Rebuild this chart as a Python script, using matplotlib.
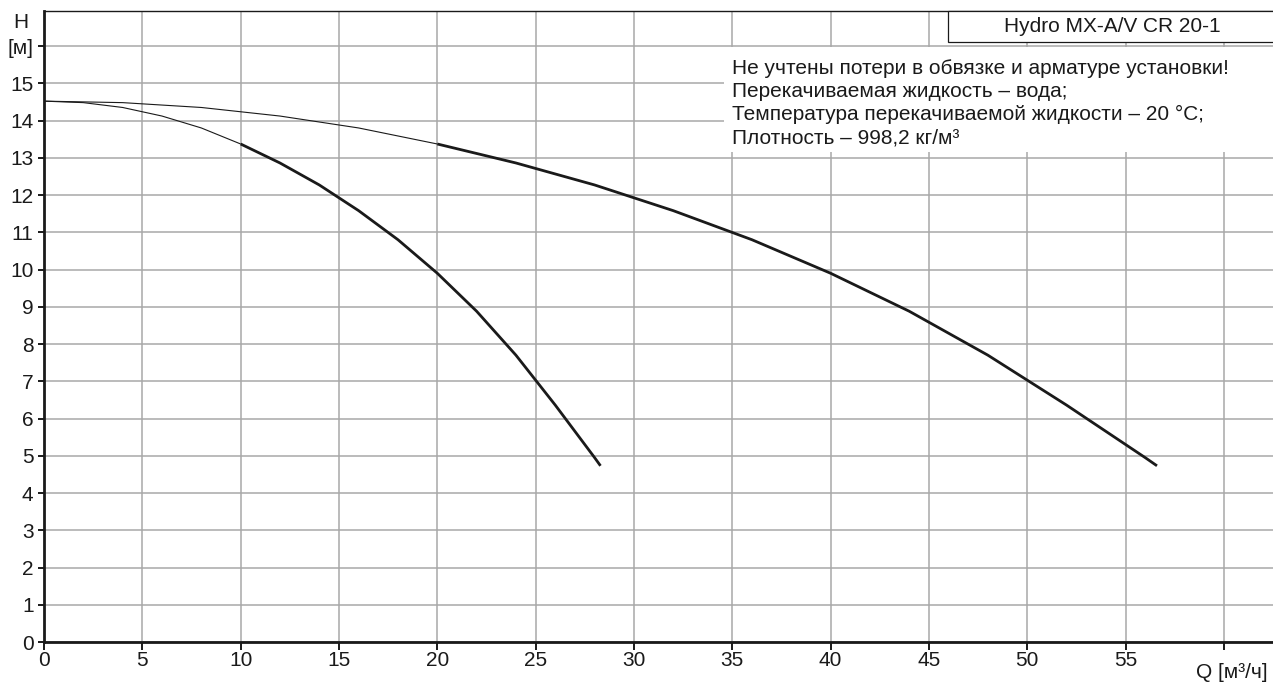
import matplotlib
matplotlib.use('Agg')
import matplotlib.pyplot as plt
from matplotlib.patches import Rectangle

plt.rcParams['font.family'] = ['Liberation Sans', 'DejaVu Sans']

# pump curve, one pump (Q in m3/h, H in m)
q_one = [0, 2, 4, 6, 8, 10, 12, 14, 16, 18, 20, 22, 24, 26, 28, 28.3]
h_one = [14.52, 14.48, 14.35, 14.12, 13.80, 13.37, 12.86, 12.27, 11.58, 10.80,
         9.90, 8.88, 7.70, 6.36, 4.95, 4.73]
split_one = 5  # index where the working range (thick line) starts

# two pumps in parallel
q_two = [0, 4, 8, 12, 16, 20, 24, 28, 32, 36, 40, 44, 48, 52, 56, 56.6]
h_two = [14.52, 14.48, 14.35, 14.12, 13.80, 13.37, 12.86, 12.27, 11.58, 10.80,
         9.90, 8.88, 7.70, 6.36, 4.95, 4.73]
split_two = 5

x_ticks = list(range(0, 61, 5))
x_labels = [str(v) for v in range(0, 56, 5)] + ['']
y_ticks = list(range(0, 17))
y_labels = [str(v) for v in range(0, 16)] + ['[м]']

title_box = 'Hydro MX-A/V CR 20-1'
note_lines = [
    'Не учтены потери в обвязке и арматуре установки!',
    'Перекачиваемая жидкость – вода;',
    'Температура перекачиваемой жидкости – 20 °C;',
    'Плотность – 998,2 кг/м³',
]

W, H = 1273, 684
fs = 15
fig = plt.figure(figsize=(W / 100, H / 100), dpi=100, facecolor='white')
ax = fig.add_axes([44 / W, 42 / H, 1 - 44 / W, (642 - 11) / H])

ink = '#1a1a1a'
grid_c = '#a8a8a8'

ax.set_xlim(0, 62.5)
ax.set_ylim(0, 16.94)
ax.set_xticks(x_ticks)
ax.set_xticklabels(x_labels)
ax.set_yticks(y_ticks)
ax.set_yticklabels(y_labels)
ax.grid(True, color=grid_c, linewidth=1.1, zorder=0)
ax.set_axisbelow(True)

for s in ['left', 'bottom']:
    ax.spines[s].set_linewidth(2.0)
    ax.spines[s].set_color(ink)
ax.spines['top'].set_linewidth(1.0)
ax.spines['top'].set_color(ink)
ax.spines['right'].set_visible(False)

ax.tick_params(axis='y', direction='out', length=4.5, width=1.4, color=ink,
               labelsize=fs, labelcolor=ink, pad=3)
ax.tick_params(axis='x', direction='out', length=5.5, width=1.4, color=ink,
               labelsize=fs, labelcolor=ink, pad=1)

# curves: thin outside working range, thick inside
for q, h, k in [(q_one, h_one, split_one), (q_two, h_two, split_two)]:
    ax.plot(q[:k + 1], h[:k + 1], color=ink, linewidth=0.8, zorder=3,
            solid_capstyle='butt')
    ax.plot(q[k:], h[k:], color=ink, linewidth=2.0, zorder=3,
            solid_capstyle='butt', solid_joinstyle='round')

# white area behind the note, covering the grid
note_x0 = (724 - 44) / (W - 44)
note_y0 = (642 - 152) / 631
note_y1 = (642 - 47) / 631
ax.add_patch(Rectangle((note_x0, note_y0), 1 - note_x0, note_y1 - note_y0,
                       transform=ax.transAxes, facecolor='white',
                       edgecolor='none', zorder=1))
ax.text(35.0, 14.46, '\n'.join(note_lines), fontsize=fs, color=ink,
        ha='left', va='center', linespacing=1.27, zorder=4)

# title box in the upper right corner
box_x0 = (948 - 44) / (W - 44)
box_y0 = (642 - 42) / 631
ax.add_patch(Rectangle((box_x0, box_y0), 1.2 - box_x0, 1 - box_y0,
                       transform=ax.transAxes, facecolor='white',
                       edgecolor=ink, linewidth=0.9, zorder=5, clip_on=False))
ax.text((1112 - 44) / (W - 44), (642 - 26) / 631, title_box,
        transform=ax.transAxes, fontsize=fs, color=ink,
        ha='center', va='center', zorder=6)

# axis labels
fig.text(21 / W, 1 - 22 / H, 'H', fontsize=fs, color=ink, ha='center', va='center')
fig.text(1268 / W, 1 - 672 / H, 'Q [м³/ч]', fontsize=fs, color=ink,
         ha='right', va='center')

fig.savefig('out.png', dpi=100, facecolor='white')
